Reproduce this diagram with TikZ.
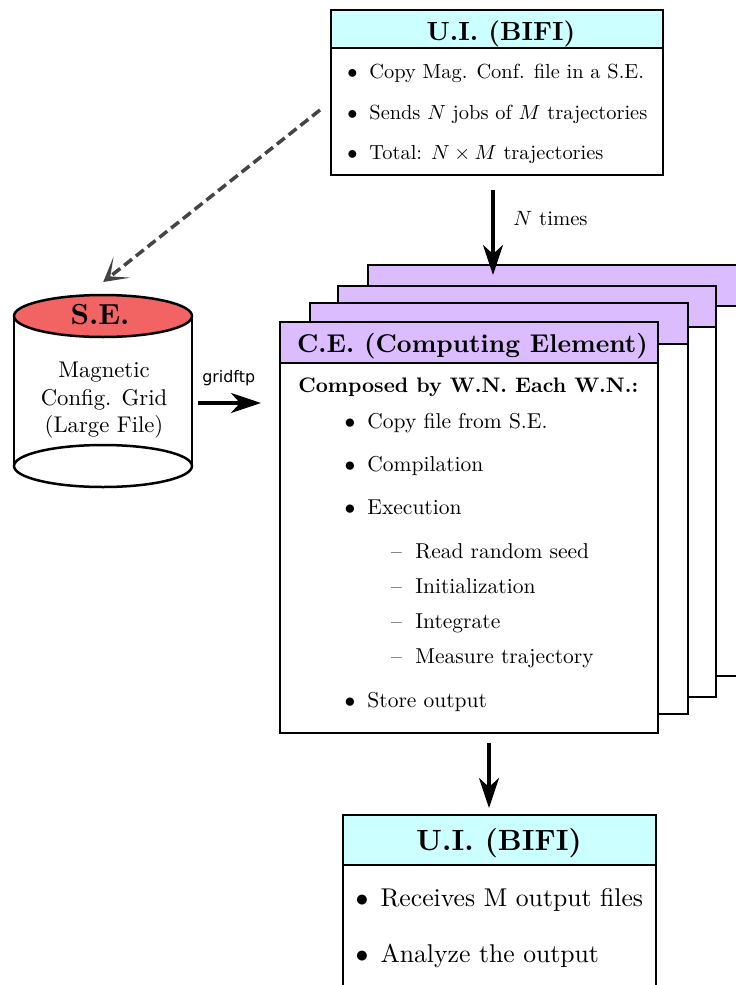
\documentclass[tikz,border=0pt]{standalone}
\usepackage{fontspec}
\newfontfamily\gridfont{DejaVu Sans}
\usetikzlibrary{arrows.meta,calc}
\definecolor{uicyan}{RGB}{204,255,255}
\definecolor{cepurple}{RGB}{219,188,255}
\definecolor{sered}{RGB}{242,100,100}
\definecolor{dgray}{RGB}{68,68,68}
\begin{document}
\begin{tikzpicture}[x=1pt,y=-1pt,
  tx/.style={inner sep=0pt, anchor=base west},
  txc/.style={inner sep=0pt, anchor=base},
  box/.style={draw, line width=2.8pt, anchor=north west, inner sep=0pt, outer sep=0pt},
  uihead/.style={box, fill=uicyan},
  cebody/.style={box, fill=white, minimum width=378pt, minimum height=411pt},
  cehead/.style={box, fill=cepurple, minimum width=378pt, minimum height=41pt},
  arr/.style={line width=3.5pt, -{Stealth[length=30pt,width=20pt,inset=9pt]}},
  darr/.style={dgray, line width=3.5pt, dash pattern=on 10pt off 5pt,
    -{Stealth[length=24pt,width=27pt,inset=15pt]}}]
\useasboundingbox (0,0) rectangle (736,985);
\clip (0,0) rectangle (736,985);

% ---------- top U.I. box ----------
\node[box, fill=white, minimum width=332pt, minimum height=165pt] (ui1) at (331,10) {};
\node[uihead, minimum width=332pt, minimum height=38pt] (ui1h) at (331,10) {};
\node[txc, scale=2.63, font=\bfseries] (ui1t) at (501,40) {U.I. (BIFI)};
\foreach \i/\y/\t in {1/78/{Copy Mag. Conf. file in a S.E.},
                      2/119/{Sends $N$ jobs of $M$ trajectories},
                      3/159/{Total: $N\times M$ trajectories}} {
  \node[txc, scale=2.04] (ui1b\i) at (352.5,\y) {$\bullet$};
  \node[tx, scale=2.04] (ui1i\i) at (369,\y) {\t};
}

% ---------- S.E. cylinder ----------
\node[inner sep=0pt, minimum width=178pt, minimum height=192pt, anchor=north west] (se) at (14,295) {};
\draw[line width=2.5pt] (14,316) -- (14,466);
\draw[line width=2.5pt] (192,316) -- (192,466);
\draw[line width=2.5pt] (103,466) ellipse [x radius=89pt, y radius=21pt];
\draw[line width=2.5pt, fill=sered] (103,316) ellipse [x radius=89pt, y radius=21pt];
\node[txc, scale=2.9, font=\bfseries] (set) at (100,324) {S.E.};
\node[txc, scale=2.27] (se1) at (104,377) {Magnetic};
\node[txc, scale=2.27] (se2) at (104,405) {Config. Grid};
\node[txc, scale=2.27] (se3) at (104,432) {(Large File)};

% ---------- stacked C.E. boxes ----------
\foreach \n/\x/\y in {4/368/265, 3/338/286, 2/310/303, 1/280/322} {
  \node[cebody] (ce\n) at (\x,\y) {};
  \node[cehead] (ce\n h) at (\x,\y) {};
}
\node[txc, scale=2.57, font=\bfseries] (ce1t) at (472.5,352) {C.E. (Computing Element)};
\node[tx, scale=2.1, font=\bfseries] (ce1c) at (298,392) {Composed by W.N. Each W.N.:};
\foreach \i/\y/\t in {1/428/{Copy file from S.E.}, 2/471/{Compilation},
                      3/514/{Execution}, 4/707/{Store output}} {
  \node[txc, scale=2.15] (ceb\i) at (350,\y) {$\bullet$};
  \node[tx, scale=2.15] (cei\i) at (367,\y) {\t};
}
\foreach \i/\y/\t in {1/558/{Read random seed}, 2/593/{Initialization},
                      3/628/{Integrate}, 4/663/{Measure trajectory}} {
  \node[txc, scale=2.15] (ced\i) at (396.5,\y) {\textendash};
  \node[tx, scale=2.15] (ces\i) at (415,\y) {\t};
}

% ---------- bottom U.I. box ----------
\node[box, fill=white, minimum width=313pt, minimum height=220pt] (ui2) at (343,815) {};
\node[uihead, minimum width=313pt, minimum height=50pt] (ui2h) at (343,815) {};
\node[txc, scale=2.93, font=\bfseries] (ui2t) at (499,850) {U.I. (BIFI)};
\foreach \i/\y/\t in {1/906/{Receives M output files}, 2/962/{Analyze the output}} {
  \node[txc, scale=2.57] (ui2b\i) at (362,\y) {$\bullet$};
  \node[tx, scale=2.57] (ui2i\i) at (380,\y) {\t};
}

% ---------- connectors ----------
\coordinate (n1) at ([xshift=-4pt,yshift=-15pt]ui1.south);
\draw[arr] (n1) -- ([yshift=-10pt]n1 |- ce4.north);
\node[tx, scale=2.07] (ntimes) at (513,225) {$N$ times};

\draw[darr] ([xshift=-11pt,yshift=-17.5pt]ui1.west) -- ([yshift=13pt]se.north);

\coordinate (g1) at (198,403);
\draw[arr, shorten >=19pt] (g1) -- (g1 -| ce1.west);
\node[tx, scale=1.59, font=\gridfont] (grid) at (202,382) {gridftp};

\coordinate (b1) at ([xshift=20pt,yshift=-10pt]ce1.south);
\draw[arr, shorten >=7pt] (b1) -- (b1 |- ui2.north);
\end{tikzpicture}
\end{document}
